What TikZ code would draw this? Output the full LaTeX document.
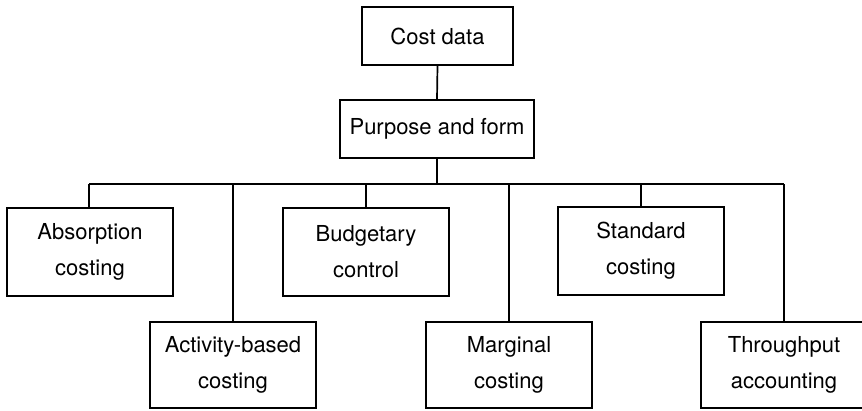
\documentclass[tikz,border=0pt]{standalone}
\usepackage{fontspec}
\setmainfont{TeX Gyre Heros}
\begin{document}
\begin{tikzpicture}[x=1pt,y=-1pt,
  box/.style={draw, line width=1.7pt, rectangle, align=center, inner sep=0pt,
    font=\fontsize{22}{36}\selectfont},
  link/.style={draw, line width=1.7pt}]
  \useasboundingbox (0,0) rectangle (862,410);
  \clip (0,0) rectangle (862,410);

  % top of the hierarchy
  \node[box, minimum width=151pt, minimum height=58pt] (cost) at (437.5,36) {Cost data};
  \node[box, minimum width=194pt, minimum height=58pt] (purpose) at (437,129) {Purpose and form};

  % branches, upper row
  \node[box, minimum width=166pt, minimum height=88pt] (absorption) at (90,252) {Absorption\\costing};
  \node[box, minimum width=166pt, minimum height=88pt] (budgetary) at (366,252) {Budgetary\\control};
  \node[box, minimum width=166pt, minimum height=88pt] (standard) at (641,251) {Standard\\costing};

  % branches, lower row
  \node[box, minimum width=166pt, minimum height=86pt] (activity) at (233,365) {Activity-based\\costing};
  \node[box, minimum width=166pt, minimum height=86pt] (marginal) at (509,365) {Marginal\\costing};
  \node[box, minimum width=166pt, minimum height=86pt] (throughput) at (784,365) {Throughput\\accounting};

  % horizontal bus
  \coordinate (busl) at (89,184);
  \coordinate (busr) at (784,184);
  \draw[link] (busl) -- (busr);

  % connectors
  \draw[link] (cost.south) -- (purpose.north);
  \draw[link] (purpose.south) -- (purpose.south |- busl);
  \draw[link] (absorption.north -| busl) -- (busl);
  \draw[link] (budgetary.north) -- (budgetary.north |- busl);
  \draw[link] (standard.north) -- (standard.north |- busl);
  \draw[link] (activity.north) -- (activity.north |- busl);
  \draw[link] (marginal.north) -- (marginal.north |- busl);
  \draw[link] (throughput.north) -- (busr);
\end{tikzpicture}
\end{document}
